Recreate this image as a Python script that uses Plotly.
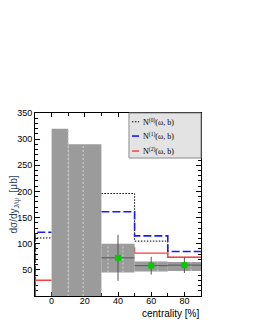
import plotly.graph_objects as go

# ---- data ----
bin_edges = [-10, 0, 10, 30, 50, 70, 90]
n0_vals = [111, None, None, 196, 105, 74]
n1_vals = [122, None, None, 161, 115, 85]
n2_vals = [30, None, None, 92, 82, 74]

box_x_lo = [0, 10, 30, 50, 70]
box_x_hi = [10, 30, 50, 70, 90]
box_y_lo = [0, 0, 45, 47, 48]
box_y_hi = [320, 290, 100, 66, 65]

div_x = [10, 19, 34, 43, 64, 84]
div_bot = [0, 0, 45, 45, 47, 48]
div_top = [320, 290, 100, 100, 66, 65]

pt_x = [40, 60, 80]
pt_y = [73, 58, 59]
pt_yerr = [44, 17, 15]
pt_xerr = [10, 10, 10]

x_ticks = [0, 20, 40, 60, 80]
y_ticks = [50, 100, 150, 200, 250, 300, 350]

legend_names = ["N<sup>(0)</sup>(ω, b)", "N<sup>(1)</sup>(ω, b)", "N<sup>(2)</sup>(ω, b)"]


def step_xy(edges, vals):
    xs, ys = [edges[0]], [0]
    for i, v in enumerate(vals):
        if v is None:
            xs.append(None)
            ys.append(None)
        else:
            xs += [edges[i], edges[i + 1]]
            ys += [v, v]
    return xs, ys


fig = go.Figure()

line_styles = [
    dict(color="black", width=1, dash="1.5px,1.5px"),
    dict(color="#1a1aff", width=1.6, dash="8px,3px"),
    dict(color="#ff3b3b", width=1.4),
]
for vals, name, st in zip([n0_vals, n1_vals, n2_vals], legend_names, line_styles):
    xs, ys = step_xy(bin_edges, vals)
    fig.add_trace(go.Scatter(x=xs, y=ys, mode="lines", name=name, line=st,
                             connectgaps=False, hoverinfo="skip", showlegend=False))

# gray systematic boxes
for xl, xh, yl, yh in zip(box_x_lo, box_x_hi, box_y_lo, box_y_hi):
    fig.add_trace(go.Scatter(x=[xl, xh, xh, xl, xl], y=[yl, yl, yh, yh, yl],
                             mode="lines", fill="toself", fillcolor="#9b9b9b",
                             line=dict(width=0, color="#9b9b9b"),
                             showlegend=False, hoverinfo="skip"))

# light dashed dividers inside boxes
dxs, dys = [], []
for x, b, t in zip(div_x, div_bot, div_top):
    dxs += [x, x, None]
    dys += [b, t, None]
fig.add_trace(go.Scatter(x=dxs, y=dys, mode="lines",
                         line=dict(color="#d2d2d2", width=1, dash="2px,2px"),
                         showlegend=False, hoverinfo="skip"))

# data points
fig.add_trace(go.Scatter(
    x=pt_x, y=pt_y, mode="markers",
    marker=dict(symbol="square", size=6, color="#00cc00"),
    error_y=dict(type="data", array=pt_yerr, color="#555555", thickness=1, width=0),
    error_x=dict(type="data", array=pt_xerr, color="#555555", thickness=1, width=0),
    showlegend=False, hoverinfo="skip"))

# ---- hand-made legend box (paper coordinates) ----
leg_x0, leg_x1, leg_y0, leg_y1 = 0.566, 1.0, 0.754, 1.0
leg_rows = [0.952, 0.874, 0.792]
shapes = [
    dict(type="rect", xref="paper", yref="paper", x0=leg_x0, x1=leg_x1, y0=leg_y0, y1=leg_y1,
         fillcolor="#e3e3e3", line=dict(color="#8c8c8c", width=1), layer="above"),
]
annotations = []
for yr, name, st in zip(leg_rows, legend_names, line_styles):
    shapes.append(dict(type="line", xref="paper", yref="paper", x0=0.584, x1=0.627,
                       y0=yr, y1=yr, line=st, layer="above"))
    annotations.append(dict(text=name, x=0.64, xref="paper", y=yr, yref="paper",
                            xanchor="left", yanchor="middle", showarrow=False,
                            font=dict(family="Liberation Serif, DejaVu Serif, serif",
                                      size=8, color="black")))

annotations.append(dict(text="centrality [%]", x=1, xref="paper", y=0, yref="paper",
                        xanchor="right", yanchor="top", yshift=-10, showarrow=False,
                        font=dict(family="Liberation Sans, Arial, sans-serif", size=10,
                                  color="black")))

axis_font = dict(family="Liberation Sans, Arial, sans-serif", size=9, color="black")

fig.update_layout(
    width=255, height=330,
    margin=dict(l=27, r=62, t=105, b=42),
    paper_bgcolor="white", plot_bgcolor="white",
    showlegend=False,
    xaxis=dict(range=[-10, 90], tickvals=x_ticks, ticktext=[str(v) for v in x_ticks],
               ticks="inside", ticklen=4, tickcolor="black", showline=True,
               linecolor="black", linewidth=1, mirror="ticks", showgrid=False,
               zeroline=False, tickfont=axis_font, layer="below traces",
               automargin=False, ticklabelstandoff=-4,
               minor=dict(dtick=10, tick0=0, ticks="inside", ticklen=3, tickcolor="black")),
    yaxis=dict(range=[0, 350], tickvals=y_ticks, ticktext=[str(v) for v in y_ticks],
               ticks="inside", ticklen=5, tickcolor="black", showline=True,
               linecolor="black", linewidth=1, mirror="ticks", showgrid=False,
               zeroline=False, tickfont=axis_font, layer="below traces",
               automargin=False,
               title=dict(text="dσ/dy<sub>J/ψ</sub>  [μb]", standoff=4,
                          font=dict(family="Liberation Sans, Arial, sans-serif", size=10)),
               minor=dict(dtick=10, tick0=0, ticks="inside", ticklen=3, tickcolor="black")),
    shapes=shapes,
    annotations=annotations,
)

fig.write_html("out.html")
